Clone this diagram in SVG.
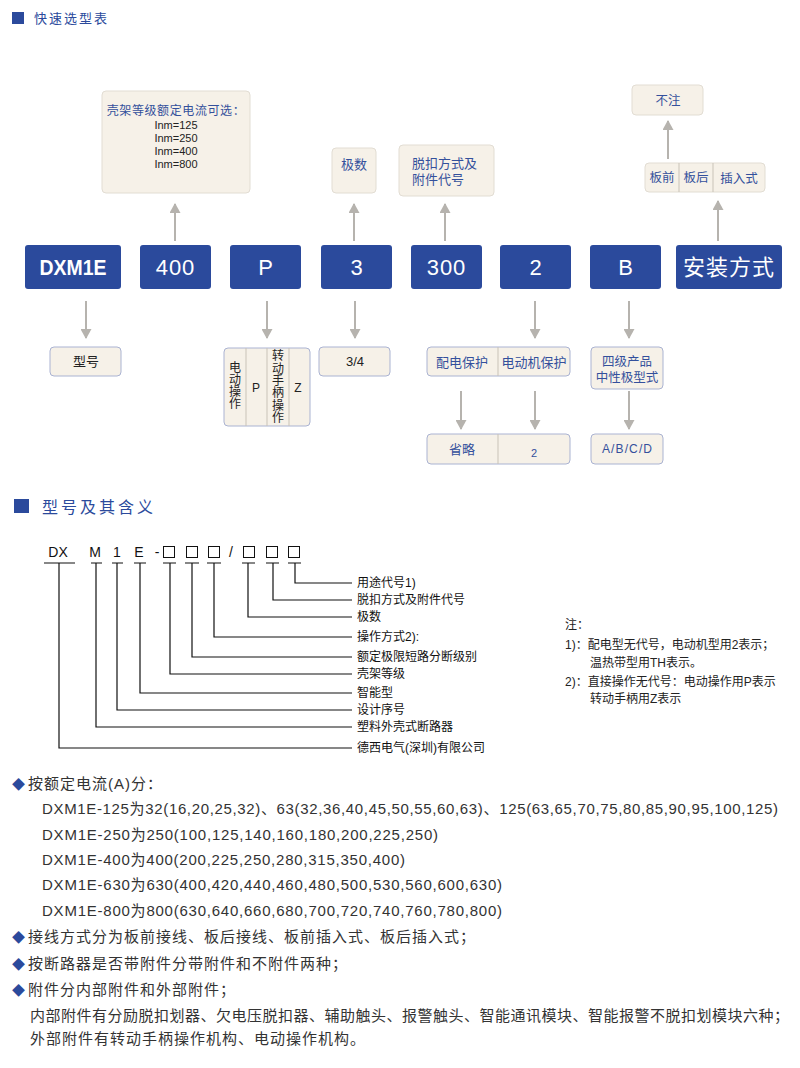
<svg xmlns="http://www.w3.org/2000/svg" width="800" height="1068" viewBox="0 0 800 1068" font-family="'Liberation Sans','Noto Sans CJK SC',sans-serif">
<style>
.bk{fill:#2b4a9c}
.bw{fill:#fff;font-size:22px;text-anchor:middle}
.tb{fill:#f6f1e8;stroke:#e2ddd3;stroke-width:1}
.bb{fill:#f6f1e8;stroke:#aab3d2;stroke-width:1}
.dv{stroke:#c9c3b8;stroke-width:1}
.bl{fill:#34509c;text-anchor:middle}
.dk{fill:#222;text-anchor:middle}
.ar{stroke:#b6b3ae;stroke-width:2;fill:none;marker-end:url(#ah)}
.ln{stroke:#111;stroke-width:1.2;fill:none}
.lb{fill:#111;font-size:12px}
.nt{fill:#222;font-size:12px}
.bd{fill:#333;font-size:15px;letter-spacing:1px}
.dia{fill:#2b4a9c}
</style>
<defs>
<marker id="ah" markerUnits="userSpaceOnUse" markerWidth="11" markerHeight="11" refX="9" refY="5.5" orient="auto">
<path d="M0,0 L10,5.5 L0,11 z" fill="#b6b3ae"/>
</marker>
</defs>

<g id="header1">
<rect x="12" y="12" width="12" height="12" class="bk"/>
<text x="34" y="23" font-size="13" letter-spacing="2" fill="#2b4a9c">快速选型表</text>
</g>

<g id="connectors">
<line x1="175" y1="241" x2="175" y2="204" class="ar"/>
<line x1="354" y1="241" x2="354" y2="204" class="ar"/>
<line x1="445" y1="241" x2="445" y2="204" class="ar"/>
<line x1="718" y1="241" x2="718" y2="201" class="ar"/>
<line x1="668" y1="159" x2="668" y2="121" class="ar"/>
<line x1="86" y1="301" x2="86" y2="338" class="ar"/>
<line x1="267" y1="301" x2="267" y2="338" class="ar"/>
<line x1="355" y1="301" x2="355" y2="338" class="ar"/>
<line x1="535" y1="301" x2="535" y2="338" class="ar"/>
<line x1="629" y1="301" x2="629" y2="338" class="ar"/>
<line x1="461" y1="391" x2="461" y2="429" class="ar"/>
<line x1="535" y1="391" x2="535" y2="429" class="ar"/>
<line x1="629" y1="391" x2="629" y2="429" class="ar"/>
</g>

<g id="n-dxm1e"><rect x="25" y="245" width="96" height="44" rx="3" class="bk"/><text x="73" y="275" class="bw" font-weight="bold" textLength="67" lengthAdjust="spacingAndGlyphs">DXM1E</text></g>
<g id="n-400"><rect x="140" y="245" width="71" height="44" rx="3" class="bk"/><text x="175.5" y="275" class="bw" letter-spacing="1">400</text></g>
<g id="n-p"><rect x="230" y="245" width="71" height="44" rx="3" class="bk"/><text x="265.5" y="275" class="bw">P</text></g>
<g id="n-3"><rect x="321" y="245" width="71" height="44" rx="3" class="bk"/><text x="356.5" y="275" class="bw">3</text></g>
<g id="n-300"><rect x="411" y="245" width="71" height="44" rx="3" class="bk"/><text x="446.5" y="275" class="bw" letter-spacing="1">300</text></g>
<g id="n-2"><rect x="500" y="245" width="71" height="44" rx="3" class="bk"/><text x="535.5" y="275" class="bw">2</text></g>
<g id="n-b"><rect x="590" y="245" width="71" height="44" rx="3" class="bk"/><text x="625.5" y="275" class="bw">B</text></g>
<g id="n-install"><rect x="676" y="245" width="106" height="44" rx="3" class="bk"/><text x="729" y="275" class="bw" font-size="20" letter-spacing="1">安装方式</text></g>

<g id="n-frame">
<rect x="102" y="91" width="148" height="102" rx="4" class="tb"/>
<text x="176" y="115" class="bl" font-size="12" letter-spacing="0.6">壳架等级额定电流可选：</text>
<text x="176" y="129" class="dk" font-size="11">Inm=125</text>
<text x="176" y="142" class="dk" font-size="11">Inm=250</text>
<text x="176" y="155" class="dk" font-size="11">Inm=400</text>
<text x="176" y="168" class="dk" font-size="11">Inm=800</text>
</g>
<g id="n-poles"><rect x="332" y="148" width="44" height="45" rx="4" class="tb"/><text x="354" y="169" class="bl" font-size="13">极数</text></g>
<g id="n-trip"><rect x="399" y="145" width="95" height="51" rx="4" class="tb"/>
<text x="412" y="168" fill="#34509c" font-size="13">脱扣方式及</text>
<text x="412" y="184" fill="#34509c" font-size="13">附件代号</text></g>
<g id="n-buzhu"><rect x="632" y="85" width="71" height="30" rx="4" class="tb"/><text x="668" y="105" class="bl" font-size="12.5">不注</text></g>
<g id="n-mount"><rect x="645" y="163" width="120" height="29" rx="4" class="tb"/>
<line x1="679" y1="163" x2="679" y2="192" class="dv"/><line x1="713" y1="163" x2="713" y2="192" class="dv"/>
<text x="662" y="182" class="bl" font-size="12.5">板前</text>
<text x="696" y="182" class="bl" font-size="12.5">板后</text>
<text x="739" y="183" class="bl" font-size="12.5">插入式</text></g>

<g id="n-model"><rect x="50" y="347" width="71" height="29" rx="4" class="bb"/><text x="86" y="366" class="dk" font-size="13">型号</text></g>
<g id="n-op"><rect x="224" y="348" width="86" height="78" rx="4" class="bb"/>
<line x1="246" y1="348" x2="246" y2="426" class="dv"/><line x1="267" y1="348" x2="267" y2="426" class="dv"/><line x1="289" y1="348" x2="289" y2="426" class="dv"/>
<text class="dk" font-size="12"><tspan x="235" y="372">电</tspan><tspan x="235" y="384">动</tspan><tspan x="235" y="396">操</tspan><tspan x="235" y="408">作</tspan></text>
<text x="256" y="392" class="dk" font-size="12">P</text>
<text class="dk" font-size="12"><tspan x="278" y="360">转</tspan><tspan x="278" y="372.5">动</tspan><tspan x="278" y="385">手</tspan><tspan x="278" y="397">柄</tspan><tspan x="278" y="410">操</tspan><tspan x="278" y="422">作</tspan></text>
<text x="298" y="392" class="dk" font-size="12">Z</text></g>
<g id="n-34"><rect x="319" y="347" width="71" height="29" rx="4" class="bb"/><text x="355" y="366" class="dk" font-size="13">3/4</text></g>
<g id="n-prot"><rect x="427" y="347" width="143" height="29" rx="4" class="bb"/>
<line x1="498" y1="347" x2="498" y2="376" class="dv"/>
<text x="462" y="367" class="bl" font-size="13">配电保护</text>
<text x="534" y="367" class="bl" font-size="13">电动机保护</text></g>
<g id="n-omit"><rect x="427" y="434" width="143" height="30" rx="4" class="bb"/>
<line x1="498" y1="434" x2="498" y2="464" class="dv"/>
<text x="462" y="454" class="bl" font-size="13">省略</text>
<text x="534" y="457" class="bl" font-size="11">2</text></g>
<g id="n-four"><rect x="591" y="347" width="72" height="42" rx="4" class="bb"/>
<text x="627" y="366" class="bl" font-size="12.5">四级产品</text>
<text x="627" y="382" class="bl" font-size="12.5">中性极型式</text></g>
<g id="n-abcd"><rect x="591" y="434" width="72" height="30" rx="4" class="bb"/><text x="627" y="453" class="bl" font-size="12" textLength="50">A/B/C/D</text></g>

<g id="header2">
<rect x="14" y="499" width="15" height="14" class="bk"/>
<text x="42" y="513" font-size="16" letter-spacing="3" fill="#2b4a9c">型号及其含义</text>
</g>

<g id="code">
<text y="557" font-size="14" fill="#111" text-anchor="middle"><tspan x="58">DX</tspan><tspan x="95">M</tspan><tspan x="117">1</tspan><tspan x="139">E</tspan><tspan x="157">-</tspan><tspan x="231">/</tspan></text>
<g fill="none" stroke="#111" stroke-width="1">
<rect x="163.5" y="546.5" width="11" height="11"/><rect x="186.5" y="546.5" width="11" height="11"/><rect x="208.5" y="546.5" width="11" height="11"/>
<rect x="243.5" y="546.5" width="11" height="11"/><rect x="266.5" y="546.5" width="11" height="11"/><rect x="288.5" y="546.5" width="11" height="11"/>
</g>
</g>
<g id="code-lines" class="ln">
<path d="M44 563H75M91 563H102M112 563H123M134 563H146M163 563H176M185 563H199M207 563H221M242 563H255M266 563H279M288 563H301"/>
<path d="M295 563V583H352M273 563V600H352M248 563V617H352M214 563V637H352M192 563V657H352M170 563V674H352M140 563V693H352M117 563V710H352M96 563V727H352M59 563V748H352"/>
</g>
<g id="code-labels" class="lb">
<text x="357" y="587">用途代号1)</text>
<text x="357" y="604">脱扣方式及附件代号</text>
<text x="357" y="621">极数</text>
<text x="357" y="641">操作方式2):</text>
<text x="357" y="661">额定极限短路分断级别</text>
<text x="357" y="678">壳架等级</text>
<text x="357" y="697">智能型</text>
<text x="357" y="714">设计序号</text>
<text x="357" y="731">塑料外壳式断路器</text>
<text x="357" y="752">德西电气(深圳)有限公司</text>
</g>

<g id="notes" class="nt">
<text x="565" y="629">注：</text>
<text x="565" y="649">1)：配电型无代号，电动机型用2表示；</text>
<text x="590" y="667">温热带型用TH表示。</text>
<text x="565" y="686">2)：直接操作无代号：电动操作用P表示</text>
<text x="590" y="703">转动手柄用Z表示</text>
</g>

<g id="body" class="bd">
<text x="12" y="788.5"><tspan class="dia" font-size="13" letter-spacing="0">◆</tspan><tspan x="28">按额定电流(A)分：</tspan></text>
<text x="42" y="813.5" letter-spacing="0" textLength="736" lengthAdjust="spacing">DXM1E-125为32(16,20,25,32)、63(32,36,40,45,50,55,60,63)、125(63,65,70,75,80,85,90,95,100,125)</text>
<text x="42" y="839.5" letter-spacing="0" textLength="396" lengthAdjust="spacing">DXM1E-250为250(100,125,140,160,180,200,225,250)</text>
<text x="42" y="864.5" letter-spacing="0" textLength="363" lengthAdjust="spacing">DXM1E-400为400(200,225,250,280,315,350,400)</text>
<text x="42" y="889.5" letter-spacing="0" textLength="460" lengthAdjust="spacing">DXM1E-630为630(400,420,440,460,480,500,530,560,600,630)</text>
<text x="42" y="915.5" letter-spacing="0" textLength="460" lengthAdjust="spacing">DXM1E-800为800(630,640,660,680,700,720,740,760,780,800)</text>
<text x="12" y="941.5"><tspan class="dia" font-size="13" letter-spacing="0">◆</tspan><tspan x="28">接线方式分为板前接线、板后接线、板前插入式、板后插入式；</tspan></text>
<text x="12" y="968.5"><tspan class="dia" font-size="13" letter-spacing="0">◆</tspan><tspan x="28">按断路器是否带附件分带附件和不附件两种；</tspan></text>
<text x="12" y="994.5"><tspan class="dia" font-size="13" letter-spacing="0">◆</tspan><tspan x="28">附件分内部附件和外部附件；</tspan></text>
<text x="30" y="1020.5" letter-spacing="0.5">内部附件有分励脱扣划器、欠电压脱扣器、辅助触头、报警触头、智能通讯模块、智能报警不脱扣划模块六种；</text>
<text x="30" y="1043.5">外部附件有转动手柄操作机构、电动操作机构。</text>
</g>
</svg>
